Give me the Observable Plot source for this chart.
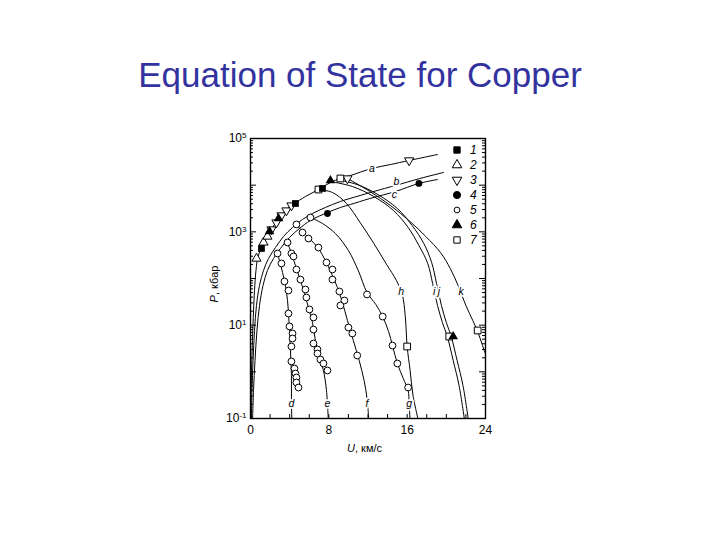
<!DOCTYPE html>
<html><head><meta charset="utf-8">
<script src="https://cdn.jsdelivr.net/npm/d3@7"></script>
<script src="https://cdn.jsdelivr.net/npm/@observablehq/plot@0.6"></script>
<style>
body{margin:0;background:#fff;width:720px;height:540px;position:relative;overflow:hidden;font-family:"Liberation Sans",Arial,sans-serif}
#title{position:absolute;left:0;width:720px;top:55px;text-align:center;font-size:35px;line-height:40px;color:#3333a0}
#chart{position:absolute;left:0;top:0}
#legend{position:absolute;left:0;top:0}
#xlabel{position:absolute;top:442px;left:347px;font-size:11px;white-space:nowrap}
#ylabel{position:absolute;left:214px;top:284px;transform:translate(-50%,-50%) rotate(-90deg);font-size:11px;white-space:nowrap}
</style></head>
<body>
<div id="chart"></div>
<svg id="legend" width="720" height="540"></svg>
<div id="title">Equation of State for Copper</div>
<div id="xlabel"><i>U</i>, км/с</div>
<div id="ylabel"><i>P</i>, кбар</div>
<script>
// ---- data: [U (km/s), P (kbar)] ----
const hugoniot = [[0.02,0.08],[0.05,0.243],[0.10,1.07],[0.20,4.70],[0.31,20.7],[0.41,55.3],[0.56,149],[0.77,297],[1.12,461],[1.53,719],[2.04,1070],[2.65,1660],[3.27,2470],[3.88,3320],[4.49,4050],[5.61,5710],[6.94,8070],[8.16,11400],[9.18,13900],[10.2,16100],[12.4,22800],[14.3,27700],[16.2,33800],[19.1,45400]];
const curveB = [[0.09,0.08],[0.15,0.398],[0.26,1.75],[0.41,7.69],[0.61,26.4],[0.92,70.8],[1.33,149],[1.84,268],[2.55,461],[3.37,794],[4.29,1240],[5.31,1840],[6.33,2470],[7.65,3320],[9.18,4470],[11.2,6010],[13.3,8070],[14.8,9840],[17.3,13900],[19.7,18700]];
const curveC = [[0.20,0.08],[0.31,0.398],[0.46,1.75],[0.66,7.69],[0.92,26.4],[1.28,70.8],[1.73,149],[2.35,268],[3.06,440],[3.98,757],[5.0,1180],[6.12,1750],[7.86,2590],[9.18,3320],[10.2,3850],[12.2,5180],[14.8,7310],[17.2,10900],[19.1,13200]];
const curveD = [[2.65,398],[2.96,243],[3.27,135],[3.57,70.8],[3.78,33.8],[3.88,17.8],[3.98,7.69],[4.08,2.86],[4.18,0.834],[4.18,0.243],[4.23,0.08]];
const curveE = [[3.67,652],[4.08,398],[4.59,190],[5.10,90.6],[5.51,47.8],[5.92,23.9],[6.33,11.4],[6.63,4.70],[7.04,2.13],[7.45,1.07],[7.76,0.398],[7.96,0.08]];
const curveF = [[4.59,1510],[5.31,1020],[6.12,685],[6.94,440],[7.65,243],[8.27,128],[8.88,64.1],[9.39,30.6],[9.90,12.6],[10.5,4.70],[11.1,1.75],[11.6,0.652],[11.9,0.27],[12.1,0.08]];
const curveG = [[6.12,2030],[7.35,1510],[8.67,921],[10.0,398],[11.0,149],[11.9,50.1],[12.8,27.7],[13.5,15.3],[14.1,7.31],[14.5,3.66],[15.0,1.51],[15.6,0.72],[16.1,0.398],[16.2,0.22],[16.3,0.08]];
const curveH = [[6.94,8070],[8.37,6970],[9.80,4050],[11.2,1580],[12.6,562],[13.9,200],[14.9,90.6],[15.5,45.4],[15.8,16.1],[16.0,3.49],[16.3,1.07],[16.6,0.311],[17.2,0.08]];
const curveI = [[8.16,12000],[10.4,9360],[12.6,5710],[14.6,2860],[16.1,1240],[17.2,509],[18.1,210],[18.6,78.2],[19.1,26.4],[19.6,11.4],[20.1,5.71],[20.7,1.75],[21.3,0.509],[21.9,0.08]];
const curveJ = [[8.78,13200],[10.9,10300],[13.0,6310],[15.0,3160],[16.5,1370],[17.7,562],[18.5,220],[19.0,78.2],[19.5,26.4],[20.0,11.4],[20.5,5.71],[21.1,1.75],[21.7,0.509],[22.3,0.08]];
const curveK = [[9.90,13900],[12.2,7310],[14.3,3660],[16.3,1660],[17.9,794],[19.4,361],[20.4,164],[21.2,70.8],[22.0,26.4],[22.7,12.6],[23.2,7.31],[23.7,3.66],[24.3,1.58]];

const series1 = [[1.12,440],[4.59,4050],[7.35,8490]];                       // filled squares
const series2 = [[0.61,268],[1.33,592],[1.73,794]];                         // open triangles up
const series3 = [[2.14,1120],[2.65,1580],[3.16,2240],[3.67,2860],[4.18,3660],[9.90,13900],[16.2,33800]]; // open triangles down
const series4 = [[7.86,2470],[17.2,10900]];                                 // filled circles
const series5 = [
  [2.76,344],[3.16,210],[3.47,86.3],[3.88,55.3],[3.88,17.8],[3.98,9.38],[4.29,6.64],[4.29,5.18],[4.18,3.49],[4.18,1.67],[4.49,1.18],[4.59,0.920],[4.69,0.757],[4.69,0.590],[4.90,0.461],
  [3.78,592],[4.18,344],[4.39,297],[4.69,156],[5.10,95],[5.61,58.1],[5.71,39.2],[6.02,21.7],[6.43,14.6],[6.43,8.07],[6.43,4.05],[6.84,3.01],[6.84,2.47],[7.14,1.84],[7.45,1.51],[7.86,1.07],
  [4.69,1440],[5.31,968],[5.92,719],[6.94,461],[7.76,220],[8.37,156],[8.37,95],[9.08,52.7],[9.59,33.8],[9.18,26.4],[10.0,8.91],[10.4,6.64],[10.9,2.24],
  [6.12,2030],[11.9,45.4],[13.5,15.3],[14.5,3.66],[15.0,1.51],[16.1,0.461]
];                                                                          // open circles
const series6 = [[1.94,1020],[2.86,1930],[8.16,12600],[20.7,5.71]];         // filled triangles
const series7 = [[6.94,8070],[9.18,13900],[16.0,3.49],[20.3,5.71],[23.2,7.69]]; // open squares

const curveNames = ["a","b","c","d","e","f","g","h","i","j","k"];
const labelU = [12.4,14.9,14.7,4.18,7.85,11.9,16.2,15.4,18.75,19.25,21.5];
const labelP = [22800,11800,6400,0.21,0.21,0.21,0.21,52,52,52,52];

const legendLabels = ["1","2","3","4","5","6","7"];
const xTickLabels = [0,8,16,24];
const yTickLabels = [0.1,10,1000,100000];

// ---- build ----
const curves = [hugoniot,curveB,curveC,curveD,curveE,curveF,curveG,curveH,curveI,curveJ,curveK];
const lineRows = curves.flatMap((c,i)=>c.map(([U,P])=>({id:i,U,P})));
const toRows = s => s.map(([U,P])=>({U,P}));
const labelRows = curveNames.map((n,i)=>({n,U:labelU[i],P:labelP[i]}));

const triDown = {draw(ctx,size){const y=-Math.sqrt(size/(Math.sqrt(3)*3));ctx.moveTo(0,-y*2);ctx.lineTo(-Math.sqrt(3)*y,y);ctx.lineTo(Math.sqrt(3)*y,y);ctx.closePath();}};

const majorY = d3.range(-1,6).map(k=>Math.pow(10,k));
const minorY = d3.range(-1,5).flatMap(k=>d3.range(2,10).map(m=>m*Math.pow(10,k)));
const xMinor = d3.range(0,25,2);

const svg = Plot.plot({
  width:720, height:540,
  marginLeft:250, marginRight:235, marginTop:138, marginBottom:122,
  style:{fontFamily:"Liberation Sans, Arial, sans-serif", fontSize:"11px", background:"transparent", color:"black"},
  x:{domain:[0,24]},
  y:{type:"log", domain:[0.1,1e5]},
  marks:[
    Plot.line(lineRows,{x:"U",y:"P",z:"id",curve:"catmull-rom",stroke:"black",strokeWidth:1,clip:true}),
    Plot.text(labelRows,{x:"U",y:"P",text:"n",fontStyle:"italic",fontSize:10.5,fill:"black",stroke:"white",strokeWidth:3.5}),
    Plot.tickX(xMinor,{x:d=>d,insetTop:276,stroke:"black"}),
    Plot.tickY(majorY,{y:d=>d,insetRight:229,stroke:"black"}),
    Plot.tickY(minorY,{y:d=>d,insetRight:232,stroke:"black"}),
    Plot.tickY(majorY,{y:d=>d,insetLeft:229,stroke:"black"}),
    Plot.tickY(minorY,{y:d=>d,insetLeft:232,stroke:"black"}),
    Plot.dot(toRows(series5),{x:"U",y:"P",r:3.4,fill:"white",stroke:"black",strokeWidth:1}),
    Plot.dot(toRows(series2),{x:"U",y:"P",symbol:"triangle",r:3.4,fill:"white",stroke:"black",strokeWidth:1}),
    Plot.dot(toRows(series3),{x:"U",y:"P",symbol:triDown,r:3.4,fill:"white",stroke:"black",strokeWidth:1}),
    Plot.dot(toRows(series7),{x:"U",y:"P",symbol:"square",r:3.8,fill:"white",stroke:"black",strokeWidth:1}),
    Plot.dot(toRows(series1),{x:"U",y:"P",symbol:"square",r:3.8,fill:"black"}),
    Plot.dot(toRows(series4),{x:"U",y:"P",r:3.4,fill:"black"}),
    Plot.dot(toRows(series6),{x:"U",y:"P",symbol:"triangle",r:3.6,fill:"black"}),
    Plot.frame({stroke:"black",strokeWidth:1.4}),
    Plot.axisX({ticks:xTickLabels,tickSize:0,tickPadding:7,fontSize:12,label:null,tickFormat:d=>String(d)}),
    Plot.axisY({ticks:yTickLabels,tickSize:0,tickPadding:4,fontSize:12,label:null,tickFormat:d=>"10^"+Math.round(Math.log10(d))})
  ]
});
document.getElementById("chart").append(svg);

const ns="http://www.w3.org/2000/svg";
svg.querySelectorAll('g[aria-label="y-axis tick label"] text').forEach(t=>{
  const s=t.textContent; const [b,e]=s.split("^");
  t.textContent="";
  const t1=document.createElementNS(ns,"tspan"); t1.textContent=b;
  const t2=document.createElementNS(ns,"tspan"); t2.textContent=e; t2.setAttribute("dy","-0.5em"); t2.setAttribute("font-size","8");
  t.append(t1,t2);
});

// legend
const legendSymbols = [
  {sym:d3.symbolSquare, fill:"black"},
  {sym:d3.symbolTriangle, fill:"white"},
  {sym:triDown, fill:"white"},
  {sym:d3.symbolCircle, fill:"black"},
  {sym:d3.symbolCircle, fill:"white", small:true},
  {sym:d3.symbolTriangle, fill:"black"},
  {sym:d3.symbolSquare, fill:"white"}
];
const lg = d3.select("#legend");
legendLabels.forEach((lab,i)=>{
  const y = 150 + i*15;
  const s = legendSymbols[i];
  const size = s.small ? 26 : 40;
  lg.append("path").attr("d",d3.symbol(s.sym,size)()).attr("transform",`translate(457,${y})`)
    .attr("fill",s.fill).attr("stroke","black").attr("stroke-width",1);
  lg.append("text").attr("x",470).attr("y",y).attr("dy","0.36em").attr("font-style","italic")
    .attr("font-size",12).attr("font-family","Liberation Sans, Arial, sans-serif").text(lab);
});
</script>
</body></html>
